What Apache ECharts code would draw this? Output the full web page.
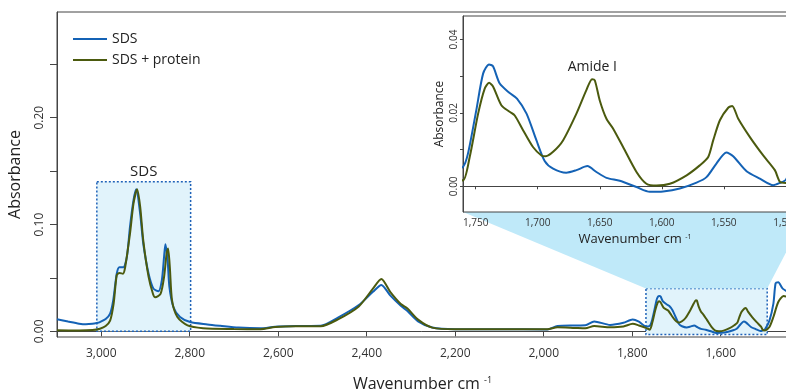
<!DOCTYPE html>
<html>
<head>
<meta charset="utf-8">
<script src="https://cdn.jsdelivr.net/npm/echarts@6/dist/echarts.min.js"></script>
<style>
html,body{margin:0;padding:0;background:#fff;}
#c{width:786px;height:389px;}
</style>
</head>
<body>
<div id="c"></div>
<script>
// ---------- DATA ----------
const sdsWavenumber = [3100,3075,3050,3035,3020,3010,3003,2990,2980,2973,2965,2959,2950,2942,2935,2927,2921,2912,2905,2893,2882,2871,2863,2858,2855,2850,2846,2837,2822,2799,2760,2731,2690,2640,2607,2560,2504,2466,2418,2386,2367,2347,2323,2308,2284,2252,2200,2100,1992,1969,1930,1906,1886,1850,1820,1799,1785,1768,
  1760.2,1756.2,1749.5,1744,1739.2,1736,1730.6,1722.6,1716.7,1709,1701,1694.4,1687.6,1677,1668.8,1660,1652.7,1644.6,1633.9,1620.4,1609.7,1599,1585.5,1572,1564,1556,1548,1542.5,1531.7,1521,1510.2,1505,1500,
  1490,1481,1476,1470,1460,1448];
const sdsAbsorbance = [0.0113,0.0092,0.0072,0.0066,0.0070,0.0078,0.0087,0.0115,0.0166,0.029,0.054,0.060,0.060,0.070,0.098,0.123,0.133,0.110,0.082,0.054,0.040,0.0375,0.048,0.070,0.0816,0.0666,0.0416,0.0228,0.0134,0.0087,0.0065,0.0052,0.0035,0.0028,0.0044,0.0050,0.0052,0.0126,0.0246,0.037,0.0435,0.0337,0.024,0.019,0.0093,0.0035,0.002,0.002,0.0018,0.005,0.0055,0.0057,0.0093,0.006,0.008,0.011,0.009,0.0045,
  0.0053,0.0089,0.0207,0.0307,0.0332,0.0327,0.028,0.0254,0.0239,0.0198,0.0125,0.0069,0.0048,0.0037,0.0044,0.0055,0.0039,0.0023,0.0015,-0.0002,-0.0015,-0.0014,-0.0006,0.001,0.0025,0.0062,0.0092,0.0082,0.0041,0.0021,0.0003,0.0009,0.0018,
  0.010,0.026,0.045,0.046,0.040,0.037];

const proteinWavenumber = [3100,3050,3020,3003,2990,2980,2972,2965,2959,2951,2946,2935,2927,2919,2912,2905,2893,2883,2878,2866,2858,2852,2849,2845,2840,2828,2805,2770,2700,2640,2607,2560,2504,2466,2418,2386,2367,2347,2323,2308,2284,2252,2200,2100,1992,1969,1930,1906,1886,1850,1820,1799,1785,1768,
  1760.2,1754.8,1748,1742.7,1739.2,1736,1729.3,1722.6,1718.5,1711.8,1703.8,1697,1693.5,1687.6,1679.6,1668.8,1660.8,1656.2,1654,1650,1644.6,1639.2,1631.2,1620.4,1612.4,1604.3,1593.5,1580,1569.4,1562.6,1558.6,1553.2,1546.5,1543.3,1538.4,1529,1518.3,1508.9,1504.8,1500,
  1490,1481,1470,1458,1448];
const proteinAbsorbance = [0.001,0.0008,0.0012,0.0025,0.005,0.010,0.026,0.0525,0.0547,0.054,0.060,0.0917,0.12,0.133,0.1166,0.085,0.051,0.035,0.032,0.035,0.051,0.074,0.0776,0.060,0.029,0.0134,0.0056,0.0030,0.0022,0.002,0.0040,0.0048,0.0048,0.011,0.0233,0.040,0.049,0.037,0.0256,0.0214,0.011,0.0035,0.002,0.002,0.002,0.0038,0.0032,0.0028,0.005,0.0038,0.0045,0.007,0.0055,0.003,
  0.0016,0.008,0.0198,0.0266,0.0282,0.0272,0.0221,0.0203,0.0193,0.0153,0.0107,0.0084,0.0082,0.0094,0.0125,0.0198,0.0262,0.0292,0.0289,0.0234,0.0184,0.0157,0.0107,0.0039,0.0007,0.0002,0.0007,0.003,0.0057,0.008,0.0125,0.018,0.0214,0.0219,0.0184,0.0134,0.0084,0.0044,0.0012,0.0009,
  0.004,0.0134,0.0275,0.033,0.032];

const seriesNames = ['SDS', 'SDS + protein'];

// axes
const mainXRange = [1448, 3100];
const mainYRange = [-0.0053, 0.299];
const mainXTicks = [3000, 2800, 2600, 2400, 2200, 2000, 1800, 1600];
const mainYTicks = [0, 0.05, 0.10, 0.15, 0.20, 0.25];
const mainYLabels = [0, 0.10, 0.20];

const insetXRange = [1483, 1760.2];
const insetYRange = [-0.007, 0.0464];
const insetXTicks = [1750, 1700, 1650, 1600, 1550, 1500];
const insetYTicks = [0, 0.01, 0.02, 0.03, 0.04];
const insetYLabels = [0, 0.02, 0.04];

// annotation regions (data coords)
const sdsRegion = {x: [3010, 2798], y: [0, 0.14], label: 'SDS'};
const zoomRegion = {x: [1769, 1495], y: [-0.003, 0.040]};
const amideLabel = {text: 'Amide I', x: 1656, y: 0.0324};

// ---------- CHART ----------
const FONT = 'Open Sans';
const BLUE = '#1462b5';
const OLIVE = '#4b5a0e';
const AXIS = '#444';

const zip = (a, b) => a.map((v, i) => [v, b[i]]);
const sdsData = zip(sdsWavenumber, sdsAbsorbance);
const protData = zip(proteinWavenumber, proteinAbsorbance);

const chart = echarts.init(document.getElementById('c'), null, {renderer: 'canvas'});

const fmtThousand = v => Math.round(v).toLocaleString('en-US');

const option = {
  animation: false,
  backgroundColor: '#fff',
  textStyle: {fontFamily: FONT},
  legend: {
    data: seriesNames,
    orient: 'vertical',
    icon: 'rect',
    left: 68, top: 27,
    itemWidth: 34, itemHeight: 2, itemGap: 7,
    textStyle: {fontFamily: FONT, fontSize: 14, color: '#222'}
  },
  grid: [
    {left: 57, right: -2, top: 12, bottom: 52, show: true, borderColor: AXIS, borderWidth: 1, backgroundColor: 'transparent', outerBoundsMode: 'none', containLabel: false},
    {left: 463, right: -21, top: 16, bottom: 177, show: true, borderColor: AXIS, borderWidth: 1, backgroundColor: '#fff', z: 3, outerBoundsMode: 'none', containLabel: false}
  ],
  xAxis: [
    {
      type: 'value', gridIndex: 0, inverse: true, min: mainXRange[0], max: mainXRange[1],
      splitLine: {show: false},
      axisLine: {show: true, lineStyle: {color: AXIS, width: 1}},
      axisTick: {show: true, length: 5, lineStyle: {color: AXIS}, customValues: mainXTicks},
      axisLabel: {customValues: mainXTicks, formatter: fmtThousand, fontSize: 12, color: '#333', margin: 11, fontFamily: FONT},
      name: '{a|Wavenumber cm }{s|-1}', nameLocation: 'middle', nameGap: 39,
      nameTextStyle: {rich: {a: {fontSize: 16, color: '#222', fontFamily: FONT}, s: {fontSize: 9, color: '#222', fontFamily: FONT, verticalAlign: 'top', lineHeight: 10}}}
    },
    {
      type: 'value', gridIndex: 1, inverse: true, min: insetXRange[0], max: insetXRange[1],
      splitLine: {show: false},
      axisLine: {show: true, lineStyle: {color: AXIS, width: 1}},
      axisTick: {show: true, length: 3, lineStyle: {color: AXIS}, customValues: insetXTicks},
      axisLabel: {customValues: insetXTicks, formatter: fmtThousand, fontSize: 10, color: '#333', margin: 6, fontFamily: FONT},
      name: '{a|Wavenumber cm }{s|-1}', nameLocation: 'middle', nameGap: 21,
      nameTextStyle: {rich: {a: {fontSize: 13, color: '#222', fontFamily: FONT}, s: {fontSize: 7, color: '#222', fontFamily: FONT, verticalAlign: 'top', lineHeight: 8}}},
      z: 4
    }
  ],
  yAxis: [
    {
      type: 'value', gridIndex: 0, min: mainYRange[0], max: mainYRange[1],
      splitLine: {show: false},
      axisLine: {show: true, lineStyle: {color: AXIS, width: 1}},
      axisTick: {show: true, length: 7, lineStyle: {color: AXIS}, customValues: mainYTicks},
      axisLabel: {customValues: mainYLabels, formatter: v => v.toFixed(2), rotate: 90, fontSize: 12, color: '#333', margin: 11, fontFamily: FONT},
      name: 'Absorbance', nameLocation: 'middle', nameGap: 34,
      nameTextStyle: {fontSize: 16, color: '#222', fontFamily: FONT}
    },
    {
      type: 'value', gridIndex: 1, min: insetYRange[0], max: insetYRange[1],
      splitLine: {show: false},
      axisLine: {show: true, lineStyle: {color: AXIS, width: 1}},
      axisTick: {show: true, length: 3, lineStyle: {color: AXIS}, customValues: insetYTicks},
      axisLabel: {customValues: insetYLabels, formatter: v => v.toFixed(2), rotate: 90, fontSize: 10, color: '#333', margin: 4, fontFamily: FONT},
      name: 'Absorbance', nameLocation: 'middle', nameGap: 17,
      nameTextStyle: {fontSize: 12, color: '#222', fontFamily: FONT},
      z: 4
    }
  ],
  series: [
    {
      name: seriesNames[0], type: 'line', xAxisIndex: 0, yAxisIndex: 0, data: sdsData,
      symbol: 'none', smooth: 0.25, lineStyle: {width: 2, color: BLUE}, itemStyle: {color: BLUE}, z: 2,
      markArea: {
        silent: true,
        itemStyle: {color: '#e1f3fb', borderColor: '#1f62b8', borderWidth: 1.5, borderType: [2, 2]},
        label: {show: true, position: 'top', distance: 2, fontSize: 15, color: '#222', fontFamily: FONT},
        data: [
          [{name: sdsRegion.label, coord: [sdsRegion.x[0], sdsRegion.y[1]]}, {coord: [sdsRegion.x[1], sdsRegion.y[0]]}],
          [{name: '', coord: [zoomRegion.x[0], zoomRegion.y[1]]}, {coord: [zoomRegion.x[1], zoomRegion.y[0]]}]
        ]
      }
    },
    {
      name: seriesNames[1], type: 'line', xAxisIndex: 0, yAxisIndex: 0, data: protData,
      symbol: 'none', smooth: 0.25, lineStyle: {width: 2, color: OLIVE}, itemStyle: {color: OLIVE}, z: 2
    },
    {
      name: seriesNames[0], type: 'line', xAxisIndex: 1, yAxisIndex: 1, data: sdsData,
      symbol: 'none', smooth: 0.25, clip: true, lineStyle: {width: 2, color: BLUE}, itemStyle: {color: BLUE}, z: 5
    },
    {
      name: seriesNames[1], type: 'line', xAxisIndex: 1, yAxisIndex: 1, data: protData,
      symbol: 'none', smooth: 0.25, clip: true, lineStyle: {width: 2, color: OLIVE}, itemStyle: {color: OLIVE}, z: 5
    }
  ]
};
chart.setOption(option);

// connector polygon + Amide label, positioned from data coordinates
const inset = {xAxisIndex: 1, yAxisIndex: 1};
const main = {xAxisIndex: 0, yAxisIndex: 0};
const pA = chart.convertToPixel(inset, [insetXRange[1], insetYRange[0]]);
const pD = chart.convertToPixel(inset, [insetXRange[0], insetYRange[0]]);
const pB = chart.convertToPixel(main, [zoomRegion.x[0], zoomRegion.y[1]]);
const pC = chart.convertToPixel(main, [zoomRegion.x[1], zoomRegion.y[1]]);
const pT = chart.convertToPixel(inset, [amideLabel.x, amideLabel.y]);

chart.setOption({
  graphic: [
    {type: 'polygon', z: 1, silent: true, shape: {points: [pA, pB, pC, pD]}, style: {fill: '#bfe9f9', stroke: null}},
    {type: 'text', z: 10, silent: true, x: pT[0], y: pT[1],
     style: {text: amideLabel.text, fontSize: 14, fontFamily: FONT, fill: '#222', align: 'center', verticalAlign: 'middle'}}
  ]
});
</script>
</body>
</html>
